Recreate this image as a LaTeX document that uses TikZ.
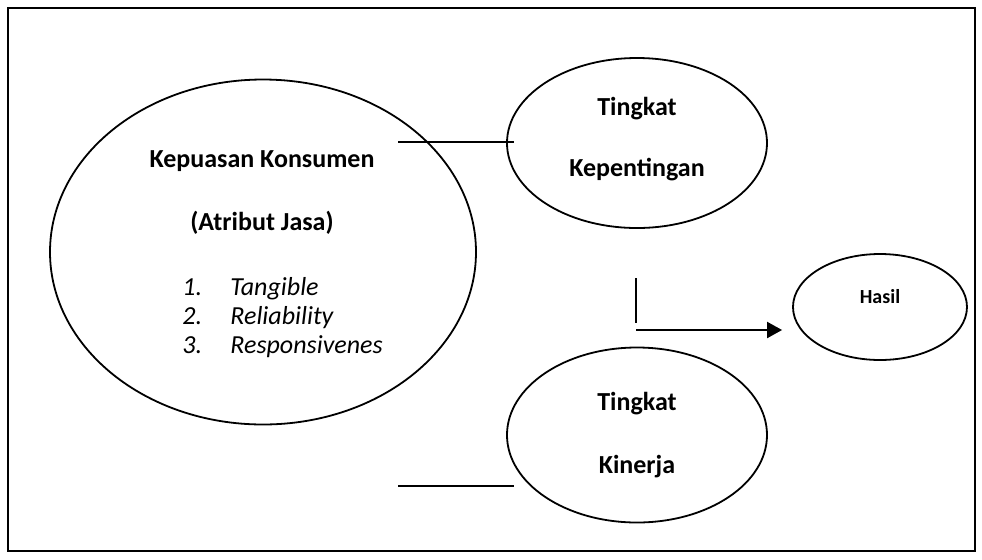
\documentclass[tikz,border=0pt]{standalone}
\usepackage{fontspec}
\setmainfont{Carlito}
\usetikzlibrary{shapes.geometric, arrows.meta}

\tikzset{
  oval/.style={draw, ellipse, line width=0.9pt, inner sep=0pt},
  judul/.style={font=\fontsize{13}{15}\selectfont\bfseries, anchor=base},
  butir/.style={font=\fontsize{13}{15}\selectfont\itshape, anchor=base west, inner sep=0pt},
  garis/.style={line width=1pt}
}

\begin{document}
\begin{tikzpicture}[x=0.5pt, y=-0.5pt]
  \useasboundingbox (0,0) rectangle (982,559);
  \draw[line width=1pt] (8,8) rectangle (975,551);

  % ellipses
  \node[oval, minimum width=213pt, minimum height=172.5pt] (kepuasan) at (263,252) {};
  \node[oval, minimum width=130pt, minimum height=85pt] (pentingan) at (637,143) {};
  \node[oval, minimum width=130pt, minimum height=87.5pt] (kinerja) at (637,435) {};
  \node[oval, minimum width=87pt, minimum height=53pt] (hasil) at (880,307) {};

  % texts
  \node[judul] (kep1) at (262,167) {Kepuasan Konsumen};
  \node[judul] (kep2) at (262,230) {(Atribut Jasa)};
  \foreach \n/\t in {1/Tangible, 2/Reliability, 3/Responsivenes} {
    \pgfmathsetmacro{\y}{295+(\n-1)*29}
    \node[butir] (no\n) at (182,\y) {\n.};
    \node[butir] (atr\n) at (230,\y) {\t};
  }
  \node[judul] (pent1) at (637,115) {Tingkat};
  \node[judul] (pent2) at (637,176) {Kepentingan};
  \node[judul] (kin1) at (637,410) {Tingkat};
  \node[judul] (kin2) at (637,473) {Kinerja};
  \node[judul, font=\fontsize{10}{12}\selectfont\bfseries] (hasil1) at (880,303) {Hasil};

  % lines
  \coordinate (g1a) at (398,142);
  \coordinate (g1b) at (514,142);
  \coordinate (g2a) at (636,278);
  \coordinate (g2b) at (636,323);
  \coordinate (g3) at (636,330);
  \coordinate (g4a) at (398,486);
  \coordinate (g4b) at (514,486);
  \draw[garis] (g1a) -- (g1b);
  \draw[garis] (g2a) -- (g2b);
  \draw[garis, -{Triangle[length=7.5pt, width=8pt]}, shorten >=5pt] (g3) -- (g3 -| hasil.west);
  \draw[garis] (g4a) -- (g4b);
\end{tikzpicture}
\end{document}
